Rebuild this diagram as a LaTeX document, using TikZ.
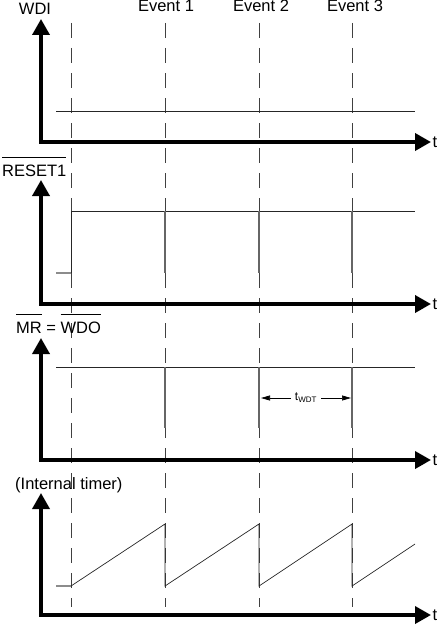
\documentclass[tikz,border=0pt]{standalone}
\usepackage{fontspec}
\setmainfont{Liberation Sans}
\usetikzlibrary{arrows.meta,calc,positioning}
\newcommand{\barred}[1]{\vbox{\hrule height 0.9pt\kern 6.5pt\hbox{#1}}}

\begin{document}
\begin{tikzpicture}[x=1pt,y=-1pt,
  axis/.style={line width=3.6pt,{Triangle[length=16pt,width=17pt]}-{Triangle[length=16pt,width=17pt]}},
  sig/.style={line width=0.7pt,black!85},
  lowsig/.style={line width=1.2pt,black!45},
  pulse/.style={line width=2.4pt,black!60},
  evline/.style={line width=0.8pt,black!75,dash pattern=on 15pt off 10pt},
  dim/.style={line width=0.7pt,{Triangle[length=9pt,width=5pt]}-{Triangle[length=9pt,width=5pt]}},
  lab/.style={font=\fontsize{16.5}{18}\selectfont,inner sep=0pt}]
\useasboundingbox (0,0) rectangle (439,626);
% event markers
\foreach \n/\x in {0/71,1/165,2/259,3/352}{
  \coordinate (e\n t) at (\x,23);
  \coordinate (e\n b) at (\x,607);
  \draw[evline] (e\n t) -- (e\n b);
}
\node[lab,anchor=base] (ev1) at (166,12) {Event 1};
\node[lab,anchor=base] (ev2) at (261,12) {Event 2};
\node[lab,anchor=base] (ev3) at (355,12) {Event 3};
% axes
\foreach \n/\yo/\yt in {1/142/19,2/304/180,3/460/338,4/615/493}{
  \coordinate (y\n) at (41,\yt);
  \coordinate (o\n) at (41,\yo);
  \coordinate (x\n) at (431,\yo);
  \draw[axis] (y\n) -- (o\n) -- (x\n);
  \node[lab,right=1.5pt of x\n] (t\n) {t};
}
\node[lab,anchor=base] (wdi) at (35,15) {WDI};
\node[lab,anchor=base west] (rst) at (2,176) {\barred{RESET1}};
\node[lab,anchor=base west] (mr) at (16,333) {\barred{MR} = \barred{WDO}};
\node[lab,anchor=base west] (tmr) at (15,489) {(Internal timer)};
% WDI
\draw[sig] (56,111) -- (415,111);
% RESET1
\draw[lowsig] (56,273) -- (71,273);
\draw[sig] (71,273) -- (71,211) -- (415,211);
\foreach \x in {165,259,352}
  \draw[pulse] (\x,211) -- (\x,273);
% MR = WDO
\draw[sig] (56,367) -- (415,367);
\foreach \x in {165,259,352}
  \draw[pulse] (\x,367) -- (\x,428);
\coordinate (w1) at (261,398);
\coordinate (w2) at (351,398);
\draw[dim] (w1) -- node[fill=white,inner sep=3.5pt,font=\fontsize{12}{13}\selectfont] (twdt) {t\textsubscript{WDT}} (w2);
% internal timer
\draw[lowsig] (56,586) -- (71,586);
\draw[sig] (71,586) -- (165,524) -- (165,586) -- (259,524) -- (259,586)
  -- (352,524) -- (352,586) -- (415,544);
\end{tikzpicture}
\end{document}
